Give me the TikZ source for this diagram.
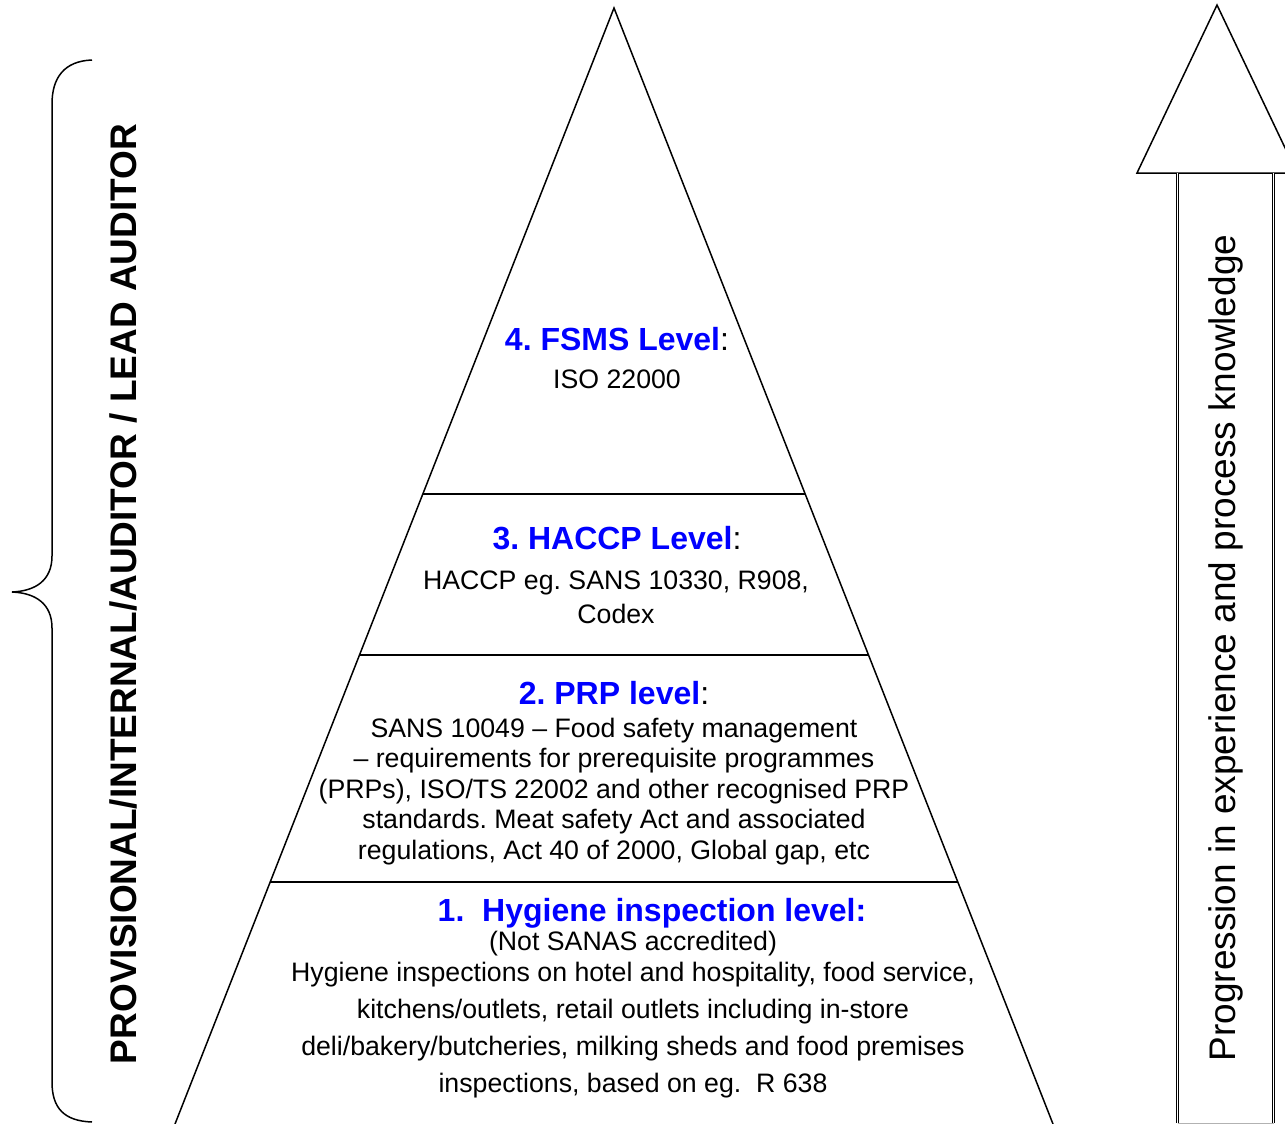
\documentclass[tikz,border=0pt]{standalone}
\usepackage{fontspec}
\setmainfont{Liberation Sans}
\usepackage{tikz}
\frenchspacing

\begin{document}
\begin{tikzpicture}[x=1pt, y=-1pt,
	leveltitle/.style={inner sep=0pt, anchor=base, font=\fontsize{32}{38}\selectfont\bfseries},
	levelbody/.style={inner sep=0pt, anchor=base, align=center, font=\fontsize{26.7}{#1}\selectfont},
	levelbody/.default=30.5,
	sidelabel/.style={inner sep=0pt, anchor=base, rotate=90, font=\fontsize{37}{44}\selectfont}]

\def\apexX{614}
\def\apexY{8}
\def\baseY{1124}
\def\halfBase{439}
\def\lw{1.5pt}
\def\clrlevel{blue}

\newcommand{\divider}[1]{%
	\draw [line width=\lw] ({\apexX-\halfBase/(\baseY-\apexY)*(#1-\apexY)},#1)
	-- ({\apexX+\halfBase/(\baseY-\apexY)*(#1-\apexY)},#1);
}

\useasboundingbox (0,0) rectangle (1285,1124);

% pyramid
\draw [line width=\lw] ({\apexX-\halfBase},\baseY) -- (\apexX,\apexY) -- ({\apexX+\halfBase},\baseY);
\divider{494}
\divider{655}
\divider{882}

% level 4 (body nodes sit on their last line)
\node [leveltitle] (fsms) at (617,350) {{\color{\clrlevel}4. FSMS Level}{\mdseries:}};
\node [levelbody] (fsmsbody) at (617,388) {ISO 22000};

% level 3
\node [leveltitle] (haccp) at (617,549) {{\color{\clrlevel}3. HACCP Level}{\mdseries:}};
\node [levelbody=34] (haccpbody) at (616,623) {HACCP eg. SANS 10330, R908,\\Codex};

% level 2
\node [leveltitle] (prp) at (614,704) {{\color{\clrlevel}2. PRP level}{\mdseries:}};
\node [levelbody] (prpbody) at (614,859) {SANS 10049 – Food safety management\\
	– requirements for prerequisite programmes\\
	(PRPs), ISO/TS 22002 and other recognised PRP\\
	standards. Meat safety Act and associated\\
	regulations, Act 40 of 2000, Global gap, etc};

% level 1
\node [leveltitle, text=\clrlevel] (hygiene) at (652,921) {1.\ \ Hygiene inspection level:};
\node [levelbody=36.7] (hygienebody) at (633,1092) {(Not SANAS accredited)\\[-5.7pt]
	Hygiene inspections on hotel and hospitality, food service,\\
	kitchens/outlets, retail outlets including in-store\\
	deli/bakery/butcheries, milking sheds and food premises\\
	inspections, based on eg.\ \ R 638};

% brace
\draw [line width=\lw] (92,60) .. controls (64,61) and (52,78) .. (52,104)
	-- (52,556) .. controls (52,580) and (36,591) .. (12,592)
	.. controls (36,593) and (52,604) .. (52,628)
	-- (52,1082) .. controls (52,1108) and (64,1121) .. (92,1122);
\node [sidelabel, font=\fontsize{37}{44}\selectfont\bfseries] (roles) at (136,594)
	{PROVISIONAL/INTERNAL/AUDITOR / LEAD AUDITOR};

% arrow
\draw [line width=\lw] (1137,173) -- (1217,5) -- (1297,173) -- cycle;
\draw [line width=0.8pt, double, double distance=0.8pt] (1177.5,173) -- (1177.5,1123);
\draw [line width=0.8pt, double, double distance=0.8pt] (1273.5,173) -- (1273.5,1123);
\draw [gray!60] (1177.5,1123) -- (1273.5,1123);
\node [sidelabel] (progress) at (1235,648) {Progression in experience and process knowledge};

\end{tikzpicture}
\end{document}
